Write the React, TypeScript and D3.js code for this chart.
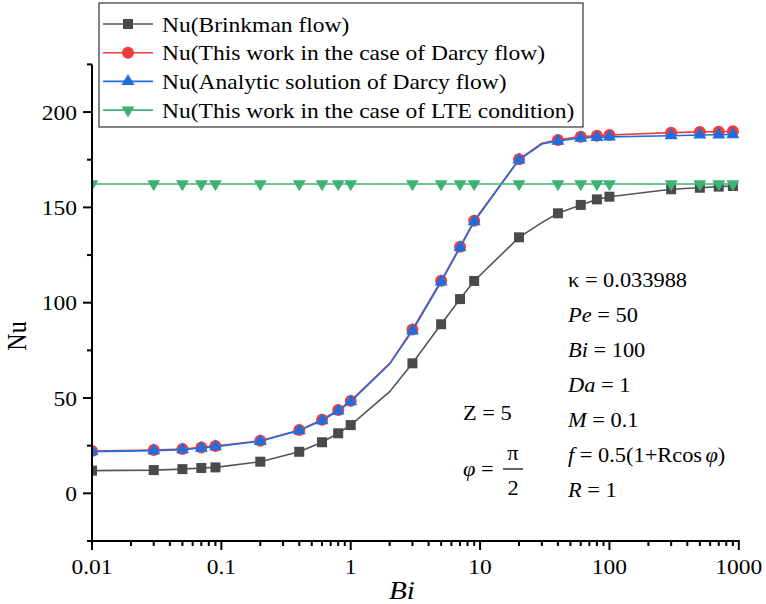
import React from "react";
import * as d3 from "d3";

// ---- Data ----
const bi = [0.01, 0.03, 0.05, 0.07, 0.09, 0.2, 0.4, 0.6, 0.8, 1, 2, 3, 5, 7, 9, 20, 30, 40, 60, 80, 100, 300, 500, 700, 900];
const unmarkedBi = [2, 30];
const brinkman = [11.9, 12.2, 12.7, 13.3, 13.6, 16.6, 21.8, 26.8, 31.5, 35.8, 53.3, 68.2, 88.7, 101.9, 111.4, 134.3, 142.0, 146.9, 151.3, 154.2, 155.6, 159.5, 160.3, 160.9, 161.2];
const darcyWork = [22.2, 22.7, 23.2, 24.1, 24.8, 27.6, 33.2, 38.6, 43.7, 48.5, 68.2, 86.0, 111.5, 129.4, 143.0, 175.2, 183.6, 185.4, 187.1, 187.6, 188.0, 189.2, 189.6, 189.7, 189.9];
const darcyAnalytic = [21.9, 22.4, 22.9, 23.8, 24.5, 27.3, 32.9, 38.2, 43.3, 48.1, 67.8, 85.2, 111.0, 128.9, 142.5, 175.0, 183.2, 184.8, 186.4, 186.8, 187.0, 187.6, 188.0, 188.1, 188.2];
const lteWork = [162.3, 162.3, 162.3, 162.3, 162.3, 162.3, 162.3, 162.3, 162.3, 162.3, 162.3, 162.3, 162.3, 162.3, 162.3, 162.3, 162.3, 162.3, 162.3, 162.3, 162.3, 162.3, 162.3, 162.3, 162.3];

const seriesNames = [
  "Nu(Brinkman flow)",
  "Nu(This work in the case of Darcy flow)",
  "Nu(Analytic solution of Darcy flow)",
  "Nu(This work in the case of LTE condition)",
];
const xMajorTicks = [0.01, 0.1, 1, 10, 100, 1000];
const xTickLabels = ["0.01", "0.1", "1", "10", "100", "1000"];
const yMajorTicks = [0, 50, 100, 150, 200];
const yMinorTicks = [-25, 25, 75, 125, 175, 225];

const FONT = "'Liberation Serif', 'Times New Roman', serif";
const SX = 1.12;

const x = d3.scaleLog().domain([0.01, 1000]).range([92, 738.8]);
const y = d3.scaleLinear().domain([-25, 225]).range([541, 64.4]);

const xMinorTicks: number[] = [];
[0.01, 0.1, 1, 10, 100].forEach((d) => {
  for (let k = 2; k <= 9; k++) xMinorTicks.push(d * k);
});

type Shape = "square" | "circle" | "up" | "down";
const series: { vals: number[]; color: string; line: string; shape: Shape }[] = [
  { vals: brinkman, color: "#4a4a4a", line: "#555555", shape: "square" },
  { vals: darcyWork, color: "#f03c3c", line: "#f03c3c", shape: "circle" },
  { vals: darcyAnalytic, color: "#1f6ee0", line: "#1f6ee0", shape: "up" },
  { vals: lteWork, color: "#3cb371", line: "#3cb371", shape: "down" },
];

function Marker({ shape, cx, cy, color }: { shape: Shape; cx: number; cy: number; color: string }) {
  if (shape === "square") return <rect x={cx - 5} y={cy - 5} width={10} height={10} fill={color} />;
  if (shape === "circle") return <circle cx={cx} cy={cy} r={6} fill={color} />;
  const w = 13, h = 11;
  if (shape === "up")
    return <path d={`M${cx},${cy - (h * 2) / 3}L${cx + w / 2},${cy + h / 3}L${cx - w / 2},${cy + h / 3}Z`} fill={color} />;
  return <path d={`M${cx},${cy + (h * 2) / 3}L${cx + w / 2},${cy - h / 3}L${cx - w / 2},${cy - h / 3}Z`} fill={color} />;
}

function SText({ x0, y0, anchor = "start", size = 21, children, italic = false }: any) {
  return (
    <text
      transform={`translate(${x0},${y0}) scale(${SX},1)`}
      textAnchor={anchor}
      fontFamily={FONT}
      fontSize={size}
      fontStyle={italic ? "italic" : "normal"}
      fill="#000"
    >
      {children}
    </text>
  );
}

export default function App() {
  const line = d3
    .line<number>()
    .x((_, i) => x(bi[i]))
    .y((v) => y(v))
    .curve(d3.curveLinear);

  const annot = [
    { v: "κ", italic: false, rest: " = 0.033988" },
    { v: "Pe", italic: true, rest: " = 50" },
    { v: "Bi", italic: true, rest: " = 100" },
    { v: "Da", italic: true, rest: " = 1" },
    { v: "M", italic: true, rest: " = 0.1" },
  ];

  return (
    <svg width={766} height={604} style={{ position: "absolute", left: 0, top: 0, background: "#fff" }}>
      <defs>
        <clipPath id="plotClip">
          <rect x={92} y={40} width={680} height={501} />
        </clipPath>
      </defs>
      <rect width={766} height={604} fill="#fff" />

      {/* series */}
      <g clipPath="url(#plotClip)">
        {series.map((s, si) => (
          <g key={si}>
            <path d={line(s.vals) || ""} fill="none" stroke={s.line} strokeWidth={1.6} />
            {s.vals.map((v, i) =>
              unmarkedBi.includes(bi[i]) ? null : (
                <Marker key={i} shape={s.shape} cx={x(bi[i])} cy={y(v)} color={s.color} />
              )
            )}
          </g>
        ))}
      </g>

      {/* axes */}
      <g stroke="#000" strokeWidth={2}>
        <line x1={92} x2={92} y1={y(225)} y2={542} />
        <line x1={91} x2={x(1000) + 1} y1={541} y2={541} />
        {yMajorTicks.map((t) => (
          <line key={t} x1={83} x2={92} y1={y(t)} y2={y(t)} />
        ))}
        {yMinorTicks.map((t) => (
          <line key={t} x1={87} x2={92} y1={y(t)} y2={y(t)} />
        ))}
        {xMajorTicks.map((t) => (
          <line key={t} x1={x(t)} x2={x(t)} y1={541} y2={550} />
        ))}
        {xMinorTicks.map((t) => (
          <line key={t} x1={x(t)} x2={x(t)} y1={541} y2={546} />
        ))}
      </g>
      {yMajorTicks.map((t) => (
        <SText key={t} x0={77} y0={y(t) + 7.5} anchor="end" size={21}>
          {String(t)}
        </SText>
      ))}
      {xMajorTicks.map((t, i) => (
        <SText key={t} x0={x(t)} y0={574} anchor="middle" size={21}>
          {xTickLabels[i]}
        </SText>
      ))}
      <SText x0={402} y0={599} anchor="middle" size={26} italic>
        Bi
      </SText>
      <text
        transform="translate(26,336) rotate(-90) scale(1,1.12)"
        textAnchor="middle"
        fontFamily={FONT}
        fontSize={24}
      >
        Nu
      </text>

      {/* legend */}
      <rect x={99} y={3} width={484} height={124} fill="#fff" stroke="#333" strokeWidth={1.2} />
      {series.map((s, i) => {
        const ly = 24 + i * 28.7;
        return (
          <g key={i}>
            <line x1={103} x2={153} y1={ly} y2={ly} stroke={s.line} strokeWidth={1.6} />
            <Marker shape={s.shape} cx={128} cy={ly} color={s.color} />
            <SText x0={162} y0={ly + 7.5} size={21}>
              {seriesNames[i]}
            </SText>
          </g>
        );
      })}

      {/* annotations right */}
      {annot.map((a, i) => (
        <SText key={i} x0={568} y0={286.5 + i * 35} size={20}>
          <tspan fontStyle={a.italic ? "italic" : "normal"}>{a.v}</tspan>
          <tspan>{a.rest}</tspan>
        </SText>
      ))}
      <SText x0={568} y0={286.5 + 5 * 35} size={20}>
        <tspan fontStyle="italic">f</tspan>
        <tspan> = 0.5(1+Rcos</tspan>
        <tspan fontStyle="italic" dx={3}>φ</tspan>
        <tspan>)</tspan>
      </SText>
      <SText x0={568} y0={286.5 + 6 * 35} size={20}>
        <tspan fontStyle="italic">R</tspan>
        <tspan> = 1</tspan>
      </SText>

      {/* annotations left */}
      <SText x0={463} y0={420} size={20}>
        Z = 5
      </SText>
      <SText x0={463} y0={476} size={20}>
        <tspan fontStyle="italic">φ</tspan>
        <tspan> =</tspan>
      </SText>
      <line x1={503} x2={523} y1={469} y2={469} stroke="#000" strokeWidth={1.2} />
      <SText x0={513} y0={460} anchor="middle" size={20}>
        π
      </SText>
      <SText x0={513} y0={495} anchor="middle" size={20}>
        2
      </SText>
    </svg>
  );
}
